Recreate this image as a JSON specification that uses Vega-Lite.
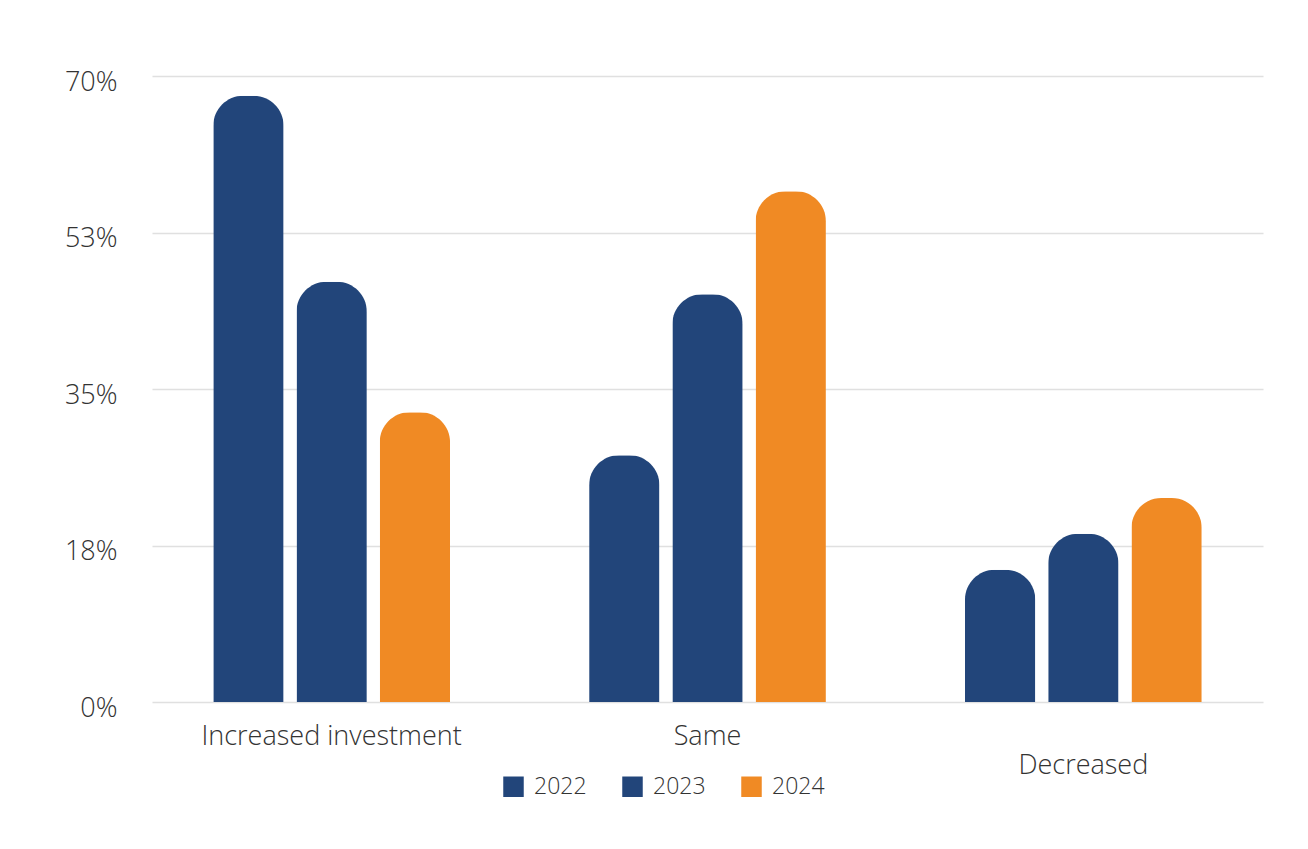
{
  "$schema": "https://vega.github.io/schema/vega-lite/v6.json",
  "autosize": {"type": "none"},
  "width": 1111,
  "height": 626,
  "padding": {"left": 152, "top": 76, "right": 45, "bottom": 147},
  "background": "#ffffff",
  "data": {
    "values": [
      {"category": "Increased investment", "year": "2022", "value": 67.8},
      {"category": "Increased investment", "year": "2023", "value": 47},
      {"category": "Increased investment", "year": "2024", "value": 32.4},
      {"category": "Same", "year": "2022", "value": 27.6},
      {"category": "Same", "year": "2023", "value": 45.6},
      {"category": "Same", "year": "2024", "value": 57.1},
      {"category": "Decreased", "year": "2022", "value": 14.8},
      {"category": "Decreased", "year": "2023", "value": 18.8},
      {"category": "Decreased", "year": "2024", "value": 22.8}
    ]
  },
  "mark": {"type": "bar", "cornerRadiusTopLeft": 30, "cornerRadiusTopRight": 30},
  "encoding": {
    "x": {
      "field": "category",
      "type": "nominal",
      "sort": ["Increased investment", "Same", "Decreased"],
      "scale": {"paddingInner": 0.37, "paddingOuter": 0.163},
      "axis": {
        "title": null,
        "domain": false,
        "ticks": false,
        "tickSize": 0,
        "labelAngle": 0,
        "labelLimit": 0,
        "labelPadding": 21,
        "labelBaseline": "top",
        "labelLineHeight": 29,
        "labelFont": "Open Sans",
        "labelFontWeight": 300,
        "labelFontSize": 27,
        "labelColor": "#333333",
        "labelExpr": "datum.value === 'Decreased' ? ['', 'Decreased'] : datum.value"
      }
    },
    "xOffset": {
      "field": "year",
      "type": "nominal",
      "scale": {"paddingInner": 0.155, "paddingOuter": 0}
    },
    "y": {
      "field": "value",
      "type": "quantitative",
      "scale": {"domain": [0, 70], "nice": false, "zero": true},
      "axis": {
        "title": null,
        "domain": false,
        "ticks": false,
        "tickSize": 0,
        "values": [0, 17.5, 35, 52.5, 70],
        "labelExpr": "format(datum.value, '.0f') + '%'",
        "labelPadding": 35,
        "labelBaseline": "alphabetic",
        "labelOffset": 14,
        "labelFont": "Open Sans",
        "labelFontWeight": 300,
        "labelFontSize": 27,
        "labelColor": "#333333",
        "gridColor": "#e0e0e0",
        "gridWidth": 1.3
      }
    },
    "color": {
      "field": "year",
      "type": "nominal",
      "scale": {"domain": ["2022", "2023", "2024"], "range": ["#22457a", "#22457a", "#f08a24"]},
      "legend": {
        "title": null,
        "orient": "none",
        "direction": "horizontal",
        "legendX": 350,
        "legendY": 699,
        "padding": 0,
        "symbolType": "square",
        "symbolSize": 420,
        "symbolStrokeWidth": 0,
        "symbolOpacity": 1,
        "labelOffset": 9,
        "columnPadding": 34,
        "labelLimit": 0,
        "labelFont": "Open Sans",
        "labelFontWeight": 300,
        "labelFontSize": 23,
        "labelColor": "#333333"
      }
    }
  },
  "config": {
    "view": {"stroke": null},
    "font": "Open Sans"
  }
}
